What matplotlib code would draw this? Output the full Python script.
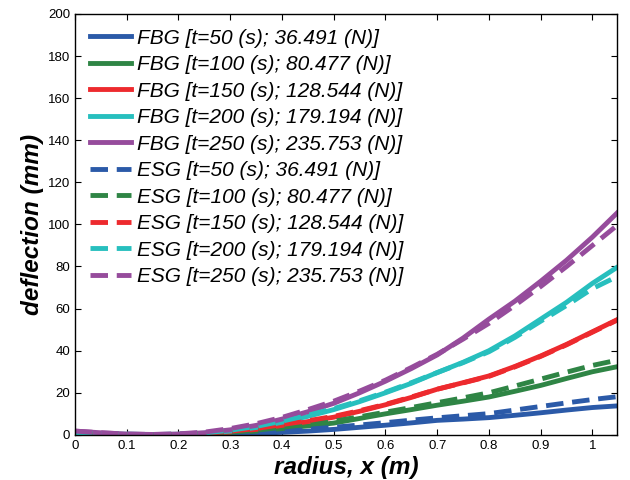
import numpy as np
import matplotlib
matplotlib.use('Agg')
import matplotlib.pyplot as plt

plt.rcParams['font.family'] = ['Liberation Sans', 'DejaVu Sans']

radius = [0, 0.05, 0.1, 0.15, 0.2, 0.25, 0.3, 0.35, 0.4, 0.45, 0.5, 0.55,
          0.6, 0.65, 0.7, 0.75, 0.8, 0.85, 0.9, 0.95, 1.0, 1.05]

# FBG (solid) deflections, mm
fbg_50 = [0.2, 0.1, 0.05, 0, 0.05, 0.15, 0.35, 0.7, 1.2, 1.8, 2.6, 3.6,
          4.6, 5.7, 6.9, 7.5, 8.2, 9.3, 10.5, 11.8, 13, 13.8]
fbg_100 = [0.4, 0.3, 0.15, 0.05, 0.15, 0.4, 0.9, 1.8, 3, 4.3, 5.6, 7.8,
           10, 12, 14.1, 16, 18, 20.7, 23.5, 26.8, 30, 32.5]
fbg_150 = [0.6, 0.4, 0.2, 0.1, 0.2, 0.6, 1.4, 2.6, 4.5, 6.3, 8.4, 11.2,
           14.3, 17.8, 21.7, 24.8, 28, 32.5, 37.5, 43, 49, 55]
fbg_200 = [1.0, 0.6, 0.3, 0.15, 0.3, 0.8, 1.8, 3.5, 6, 8.8, 12, 15.8,
           20, 24.5, 29.6, 34.5, 40, 47, 55, 63, 72, 80]
fbg_250 = [1.8, 1.0, 0.4, 0.2, 0.4, 1.0, 2.4, 4.5, 7.5, 11, 15, 20,
           25.5, 31.5, 38, 46, 55, 63.5, 73, 83, 94, 106]

# ESG (dashed) deflections, mm
esg_50 = [0.2, 0.1, 0.05, 0, 0.1, 0.3, 0.6, 1.1, 1.8, 2.7, 3.6, 4.7,
          5.8, 7.0, 8.1, 9.1, 10.1, 11.8, 13.5, 15.2, 16.8, 18.2]
esg_100 = [0.4, 0.3, 0.15, 0.05, 0.2, 0.5, 1.2, 2.2, 3.6, 5.0, 6.5, 8.6,
           10.8, 13, 15.3, 17.6, 20, 23.2, 26.5, 29.8, 33, 35.6]
esg_150 = [0.6, 0.4, 0.2, 0.1, 0.25, 0.7, 1.7, 3, 4.9, 6.7, 8.8, 11.5,
           14.5, 18, 21.7, 24.7, 27.8, 32.3, 37.3, 42.8, 48.8, 54.8]
esg_200 = [1.0, 0.6, 0.3, 0.15, 0.35, 0.9, 2.2, 4, 6.5, 9.3, 12.5, 16.2,
           20.3, 24.8, 29.6, 34.3, 39.5, 46.3, 54, 61.5, 69.5, 75.5]
esg_250 = [1.8, 1.0, 0.4, 0.2, 0.5, 1.3, 3.0, 5.3, 8.3, 12, 16, 20.8,
           26, 32, 38.3, 45.5, 53, 61.5, 70.5, 80, 90, 100]

labels_t = ['t=50 (s); 36.491 (N)', 't=100 (s); 80.477 (N)', 't=150 (s); 128.544 (N)',
            't=200 (s); 179.194 (N)', 't=250 (s); 235.753 (N)']
colors = ['#2b5aa8', '#2f8545', '#ed2a2e', '#27bfbe', '#964c9c']

fig = plt.figure(figsize=(6.3, 4.8), dpi=100)
ax = fig.add_axes([0.119, 0.094, 0.86, 0.877])

fbg = [fbg_50, fbg_100, fbg_150, fbg_200, fbg_250]
esg = [esg_50, esg_100, esg_150, esg_200, esg_250]

for ys, c, lab in zip(fbg, colors, labels_t):
    ax.plot(radius, ys, color=c, lw=3.5, label='FBG [' + lab + ']')
for ys, c, lab in zip(esg, colors, labels_t):
    ax.plot(radius, ys, color=c, lw=3.5, dashes=(3.6, 1.8), label='ESG [' + lab + ']')

ax.set_xlim(0, 1.047)
ax.set_ylim(0, 200)
ax.set_xticks(np.arange(0, 1.01, 0.1))
ax.set_xticklabels(['0', '0.1', '0.2', '0.3', '0.4', '0.5', '0.6', '0.7', '0.8', '0.9', '1'])
ax.set_yticks(np.arange(0, 201, 20))
ax.tick_params(direction='in', top=True, right=True, labelsize=9.5, length=4)
for s in ax.spines.values():
    s.set_linewidth(1.0)

ax.set_xlabel('radius, x (m)', fontsize=17.5, fontweight='bold', style='italic', labelpad=3)
ax.set_ylabel('deflection (mm)', fontsize=17.5, fontweight='bold', style='italic', labelpad=3)

leg = ax.legend(loc='upper left', frameon=False, prop={'size': 15, 'style': 'italic'},
                handlelength=2.0, labelspacing=0.36, borderaxespad=0.3, handletextpad=0.3)

fig.savefig('out.png', dpi=100)
